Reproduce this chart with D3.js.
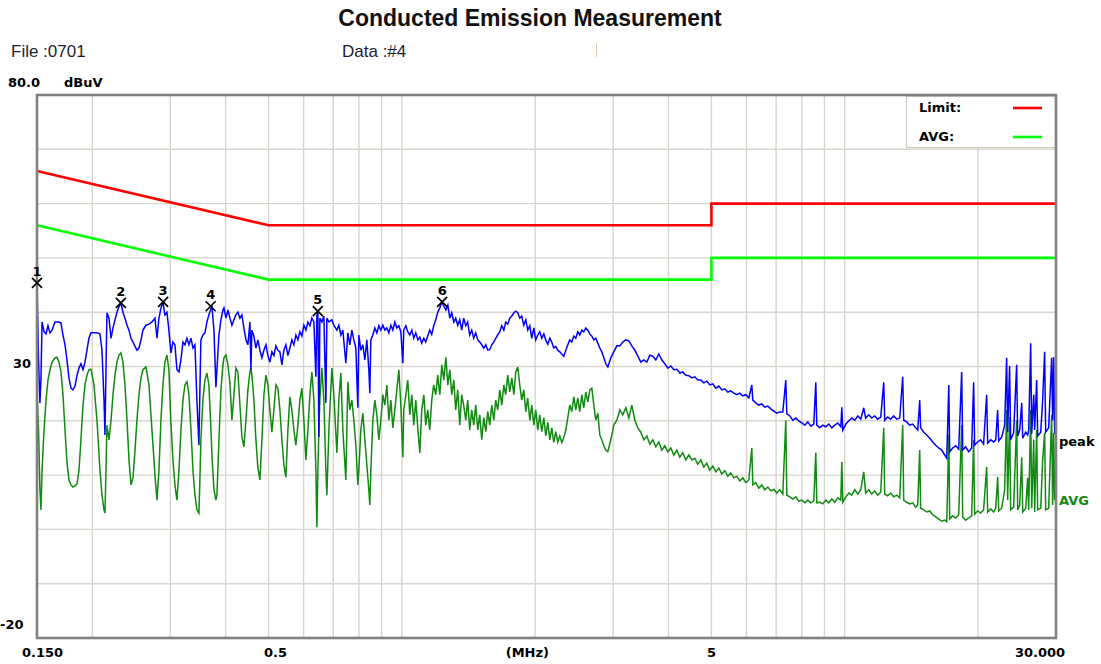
<!DOCTYPE html>
<html lang="en">
<head>
<meta charset="UTF-8">
<title>Conducted Emission Measurement</title>
<style>
  body { margin: 0; background: #fff; }
  svg { display: block; }
  text { font-family: "DejaVu Sans", sans-serif; }
</style>
</head>
<body>
<div id="chart"></div>
<script src="https://d3js.org/d3.v7.min.js"></script>
<script>
// sweep frequencies (MHz)
const freqMHz = [
  // 0.15 - 0.53
  0.1500, 0.1512, 0.1523, 0.1531, 0.1540, 0.1556, 0.1572, 0.1588, 0.1605, 0.1622,
  0.1647, 0.1664, 0.1682, 0.1699, 0.1717, 0.1735, 0.1753, 0.1771, 0.1790, 0.1808,
  0.1828, 0.1847, 0.1866, 0.1885, 0.1905, 0.1925, 0.1945, 0.1965, 0.1986, 0.2017,
  0.2049, 0.2081, 0.2103, 0.2125, 0.2136, 0.2147, 0.2158, 0.2181, 0.2204, 0.2227,
  0.2250, 0.2273, 0.2297, 0.2321, 0.2345, 0.2370, 0.2395, 0.2420, 0.2445, 0.2471,
  0.2497, 0.2522, 0.2549, 0.2576, 0.2602, 0.2643, 0.2685, 0.2727, 0.2770, 0.2799,
  0.2828, 0.2857, 0.2887, 0.2917, 0.2948, 0.2978, 0.3010, 0.3041, 0.3073, 0.3105,
  0.3138, 0.3170, 0.3204, 0.3237, 0.3271, 0.3305, 0.3340, 0.3375, 0.3410, 0.3445,
  0.3481, 0.3499, 0.3517, 0.3554, 0.3592, 0.3629, 0.3667, 0.3706, 0.3725, 0.3764,
  0.3803, 0.3823, 0.3863, 0.3903, 0.3944, 0.3965, 0.4006, 0.4048, 0.4090, 0.4133,
  0.4176, 0.4219, 0.4263, 0.4308, 0.4353, 0.4398, 0.4445, 0.4491, 0.4538, 0.4562,
  0.4585, 0.4633, 0.4682, 0.4731, 0.4780, 0.4830, 0.4881, 0.4932, 0.4983, 0.5035,
  0.5088, 0.5141, 0.5195, 0.5249,
  // 0.53 - 2.8
  0.5304, 0.5359, 0.5415, 0.5472, 0.5529, 0.5586, 0.5645, 0.5704, 0.5764, 0.5824,
  0.5885, 0.5946, 0.6008, 0.6071, 0.6135, 0.6199, 0.6263, 0.6329, 0.6395, 0.6428,
  0.6462, 0.6495, 0.6529, 0.6597, 0.6666, 0.6736, 0.6771, 0.6842, 0.6949, 0.7021,
  0.7132, 0.7206, 0.7282, 0.7358, 0.7473, 0.7551, 0.7630, 0.7710, 0.7791, 0.7872,
  0.7954, 0.7995, 0.8079, 0.8164, 0.8249, 0.8335, 0.8422, 0.8466, 0.8510, 0.8600,
  0.8690, 0.8780, 0.8872, 0.8965, 0.9058, 0.9153, 0.9249, 0.9345, 0.9443, 0.9542,
  0.9641, 0.9742, 0.9844, 0.9947, 1.005, 1.010, 1.021, 1.031, 1.042, 1.053,
  1.064, 1.075, 1.087, 1.098, 1.109, 1.121, 1.132, 1.144, 1.156, 1.168,
  1.180, 1.193, 1.205, 1.218, 1.231, 1.244, 1.257, 1.270, 1.283, 1.296,
  1.310, 1.323, 1.337, 1.351, 1.365, 1.379, 1.394, 1.408, 1.423, 1.438,
  1.453, 1.468, 1.484, 1.499, 1.515, 1.531, 1.547, 1.563, 1.579, 1.596,
  1.613, 1.629, 1.646, 1.664, 1.681, 1.699, 1.716, 1.734, 1.753, 1.771,
  1.790, 1.808, 1.827, 1.846, 1.865, 1.885, 1.905, 1.924, 1.945, 1.965,
  1.986, 2.006, 2.027, 2.048, 2.070, 2.092, 2.113, 2.136, 2.158, 2.180,
  2.203, 2.226, 2.249, 2.273, 2.297, 2.321, 2.345, 2.370, 2.394, 2.419,
  2.445, 2.470, 2.496, 2.522, 2.549, 2.575, 2.602, 2.630, 2.657, 2.685,
  2.713, 2.741, 2.770, 2.799,
  // 2.8 - 7.2
  2.828, 2.858, 2.888, 2.918, 2.964, 3.010, 3.058, 3.106, 3.154, 3.204,
  3.255, 3.306, 3.358, 3.411, 3.464, 3.518, 3.574, 3.630, 3.687, 3.745,
  3.804, 3.864, 3.925, 3.987, 4.049, 4.113, 4.177, 4.243, 4.309, 4.377,
  4.446, 4.516, 4.587, 4.659, 4.732, 4.807, 4.882, 4.959, 5.037, 5.116,
  5.197, 5.278, 5.361, 5.445, 5.531, 5.618, 5.706, 5.796, 5.887, 5.980,
  6.074, 6.169, 6.201, 6.298, 6.397, 6.498, 6.600, 6.704, 6.810, 6.917,
  7.025, 7.135,
  // 7.2 - 30
  7.248, 7.362, 7.400, 7.516, 7.635, 7.755, 7.876, 8.000, 8.126, 8.254,
  8.383, 8.515, 8.604, 8.649, 8.785, 8.923, 9.064, 9.206, 9.351, 9.498,
  9.647, 9.799, 9.850, 9.901, 10.06, 10.22, 10.37, 10.54, 10.71, 10.87,
  11.04, 11.15, 11.33, 11.51, 11.69, 11.87, 12.06, 12.25, 12.31, 12.50,
  12.70, 12.90, 13.11, 13.31, 13.52, 13.59, 13.80, 14.02, 14.24, 14.46,
  14.62, 14.77, 14.84, 15.08, 15.32, 15.56, 15.80, 16.05, 16.30, 16.56,
  16.82, 17.00, 17.18, 17.26, 17.53, 17.81, 18.09, 18.37, 18.47, 18.75,
  19.05, 19.35, 19.55, 19.65, 19.96, 20.27, 20.59, 20.92, 21.03, 21.36,
  21.69, 21.93, 22.15, 22.27, 22.62, 22.97, 23.21, 23.33, 23.57, 23.70,
  24.07, 24.45, 24.58, 24.84, 25.10, 25.23, 25.63, 25.89, 26.03, 26.30,
  26.44, 26.72, 26.85, 27.13, 27.27, 27.71, 27.99, 28.28, 28.43, 28.88,
  29.33, 29.48, 29.64, 29.79, 30.00
]

// peak detector trace (dBuV)
const peakDb = [
  45.4, 31.2, 23.3, 27.5, 38.2, 36.4, 36.0, 37.5, 36.2, 36.7,
  38.2, 38.2, 38.2, 38.0, 35.8, 34.0, 31.2, 27.9, 26.0, 25.7,
  26.4, 28.4, 29.7, 30.5, 29.4, 30.8, 33.0, 35.2, 36.2, 36.2,
  36.2, 36.0, 33.0, 23.8, 17.4, 29.4, 39.9, 38.9, 35.2, 37.1,
  38.6, 40.0, 41.0, 41.7, 40.0, 38.9, 37.6, 36.7, 35.2, 34.5,
  33.7, 33.0, 33.4, 34.9, 36.7, 37.6, 37.8, 38.2, 38.9, 35.2,
  38.9, 40.7, 41.9, 39.5, 40.0, 36.7, 32.5, 34.5, 34.0, 29.4,
  29.0, 31.2, 34.5, 34.0, 35.2, 34.0, 35.2, 33.4, 34.0, 23.8,
  15.5, 25.7, 34.9, 35.8, 36.2, 38.2, 39.5, 40.7, 41.1, 36.7,
  26.2, 29.4, 35.8, 38.6, 40.4, 40.8, 38.9, 40.4, 38.9, 37.6,
  38.6, 39.5, 40.0, 38.9, 39.5, 37.1, 34.9, 34.0, 38.2, 29.4,
  36.7, 35.6, 33.4, 34.9, 33.0, 31.6, 33.0, 34.0, 32.0, 30.8,
  32.7, 32.0, 33.8, 33.0,
  32.7, 30.3, 33.0, 34.0, 32.0, 33.4, 34.9, 34.0, 35.8, 34.9,
  36.4, 35.6, 37.6, 36.7, 38.2, 37.5, 38.9, 38.2, 28.1, 39.3,
  40.2, 17.0, 38.9, 38.2, 39.3, 23.3, 38.9, 38.2, 38.6, 37.6,
  36.7, 37.6, 35.8, 36.7, 30.6, 36.2, 34.0, 36.7, 34.9, 33.4,
  22.4, 35.8, 33.0, 34.0, 31.2, 34.9, 29.4, 25.1, 34.9, 35.8,
  37.1, 36.2, 37.5, 36.7, 37.6, 36.7, 37.1, 36.2, 37.6, 36.7,
  38.2, 37.1, 37.5, 36.4, 30.6, 36.7, 37.5, 36.4, 35.8, 36.7,
  35.2, 36.2, 34.9, 35.4, 34.3, 35.2, 34.5, 35.6, 36.7, 35.9,
  37.5, 38.6, 40.0, 40.8, 41.9, 41.1, 40.4, 41.3, 38.9, 39.9,
  38.2, 38.9, 37.6, 38.6, 36.7, 38.9, 37.5, 38.2, 35.8, 36.7,
  35.2, 36.2, 34.9, 34.5, 34.0, 33.4, 34.0, 33.0, 33.1, 34.0,
  34.5, 35.2, 35.8, 36.4, 37.5, 36.7, 38.2, 37.8, 38.9, 39.3,
  39.9, 40.2, 39.9, 38.9, 39.3, 37.6, 38.6, 36.7, 37.5, 35.2,
  37.1, 34.9, 35.8, 36.4, 35.2, 36.0, 34.9, 34.1, 35.2, 34.5,
  33.4, 33.7, 33.0, 32.7, 32.3, 31.9, 33.0, 34.0, 34.9, 34.5,
  35.6, 35.2, 36.4, 35.8, 36.7, 36.4, 37.1, 36.7, 36.0, 35.6,
  34.9, 35.2, 34.3, 33.4,
  32.7, 31.6, 30.5, 29.9, 31.6, 32.7, 33.8, 33.8, 34.5, 34.9,
  34.7, 33.8, 33.0, 31.9, 30.8, 31.2, 30.8, 32.1, 31.9, 31.2,
  32.3, 31.2, 30.5, 29.7, 30.1, 29.4, 29.5, 28.8, 29.0, 28.4,
  28.3, 27.9, 28.1, 27.5, 27.5, 27.0, 27.3, 26.6, 26.8, 26.0,
  26.4, 25.7, 25.9, 25.3, 25.5, 25.1, 24.8, 25.1, 24.6, 24.8,
  24.2, 26.6, 23.8, 23.3, 22.9, 23.1, 22.5, 22.7, 22.2, 21.8,
  21.4, 21.6,
  21.6, 27.5, 21.3, 20.9, 20.1, 20.5, 20.0, 19.6, 19.2, 19.8,
  19.0, 19.4, 27.1, 19.2, 18.7, 19.2, 18.9, 19.4, 18.7, 19.2,
  19.6, 18.9, 22.5, 18.3, 19.4, 20.0, 20.5, 20.1, 20.9, 20.3,
  22.4, 20.5, 21.1, 20.5, 20.9, 20.3, 20.7, 27.1, 20.1, 20.7,
  20.3, 20.9, 20.3, 20.5, 28.1, 20.1, 19.8, 19.2, 19.4, 18.7,
  18.3, 23.8, 18.7, 17.9, 17.4, 16.8, 16.1, 15.5, 15.0, 14.6,
  13.7, 13.1, 26.6, 14.3, 15.0, 15.4, 14.8, 29.0, 14.6, 15.2,
  14.3, 15.0, 27.1, 15.5, 16.1, 16.5, 15.7, 24.8, 15.9, 16.5,
  16.1, 16.5, 22.0, 16.3, 17.0, 19.2, 31.6, 17.9, 30.1, 16.5,
  17.8, 30.3, 17.2, 18.3, 23.3, 16.8, 17.9, 17.4, 18.3, 34.3,
  17.6, 24.8, 18.3, 27.5, 17.2, 17.9, 23.8, 32.7, 17.9, 18.7,
  31.6, 20.1, 31.7, 17.9, 17.4
]

// average detector trace (dBuV)
const avgDb = [
  25.1, 18.3, 7.3, 3.6, 10.9, 18.3, 23.8, 27.5, 29.4, 30.8,
  31.6, 31.7, 30.8, 29.0, 24.8, 18.3, 12.4, 9.1, 8.2, 7.8,
  8.0, 8.4, 10.9, 16.5, 22.9, 26.6, 28.4, 29.4, 29.5, 26.6,
  20.1, 10.9, 6.3, 3.6, 3.0, 10.9, 19.2, 16.5, 20.1, 24.8,
  28.4, 30.8, 32.1, 32.5, 30.8, 26.6, 20.1, 12.8, 8.2, 9.5,
  14.6, 20.1, 24.8, 27.9, 29.4, 29.9, 26.6, 18.3, 10.0, 5.4,
  10.9, 20.1, 26.6, 30.8, 32.1, 29.4, 19.6, 12.8, 8.2, 5.4,
  10.9, 18.3, 23.8, 26.6, 27.2, 24.8, 18.3, 10.9, 6.3, 3.6,
  3.0, 9.1, 16.5, 23.8, 27.5, 28.8, 26.6, 18.3, 13.7, 7.3,
  5.4, 6.3, 16.5, 25.7, 30.3, 31.6, 32.1, 30.3, 27.0, 20.1,
  24.8, 29.7, 29.0, 22.9, 17.0, 15.2, 20.1, 25.7, 29.0, 29.7,
  28.4, 23.8, 16.5, 11.3, 9.1, 16.5, 24.8, 28.4, 26.6, 22.0,
  17.9, 22.0, 26.6, 26.0,
  22.0, 16.5, 11.9, 9.6, 18.3, 24.4, 22.0, 18.3, 15.5, 19.2,
  23.8, 26.0, 20.1, 12.8, 18.3, 24.8, 29.0, 23.8, 10.9, 0.4,
  10.9, 18.3, 23.8, 29.7, 23.8, 10.9, 6.3, 18.3, 29.7, 24.8,
  14.1, 23.8, 28.8, 18.3, 9.1, 27.2, 22.0, 23.8, 20.1, 15.5,
  8.2, 10.9, 18.3, 21.4, 16.5, 11.9, 7.3, 4.5, 10.9, 20.1,
  23.8, 21.1, 16.5, 20.1, 24.8, 22.9, 26.6, 20.1, 23.8, 18.7,
  22.0, 25.7, 29.4, 22.9, 13.3, 22.0, 24.8, 27.5, 21.1, 24.8,
  19.2, 23.8, 18.3, 14.1, 22.0, 24.8, 19.2, 22.0, 18.3, 23.8,
  26.6, 24.8, 28.4, 24.8, 30.3, 27.5, 31.7, 26.6, 29.4, 24.8,
  27.5, 22.0, 25.7, 19.2, 24.8, 22.9, 20.1, 23.8, 18.3, 22.0,
  19.2, 22.9, 18.3, 21.1, 16.5, 20.6, 18.0, 21.7, 19.2, 22.9,
  20.1, 23.8, 22.0, 25.7, 22.9, 26.6, 24.8, 28.4, 25.3, 27.9,
  24.8, 29.0, 29.9, 26.6, 23.8, 25.7, 21.7, 24.2, 20.1, 22.9,
  19.2, 22.0, 18.3, 21.1, 18.0, 20.6, 17.2, 19.7, 16.5, 18.7,
  16.0, 18.0, 16.1, 17.2, 16.0, 16.9, 18.3, 20.6, 22.9, 21.7,
  24.4, 22.0, 24.2, 21.7, 24.8, 22.4, 25.3, 23.5, 25.7, 26.0,
  22.9, 20.1, 21.4, 17.4,
  16.5, 15.4, 14.6, 14.3, 16.5, 19.2, 20.1, 22.0, 21.1, 22.4,
  20.5, 22.9, 20.1, 18.7, 17.9, 16.5, 17.2, 15.7, 16.5, 15.2,
  16.1, 14.6, 15.4, 14.3, 15.0, 13.7, 14.6, 13.3, 14.1, 12.8,
  13.7, 12.8, 13.1, 12.0, 12.8, 11.5, 12.2, 10.9, 11.7, 10.6,
  11.3, 10.2, 10.8, 9.8, 10.4, 9.5, 9.8, 8.9, 9.5, 8.6,
  9.1, 15.0, 8.2, 8.6, 7.6, 8.2, 7.3, 7.8, 7.1, 7.4,
  6.7, 7.3,
  6.5, 20.1, 6.3, 6.0, 5.6, 6.0, 5.2, 5.4, 4.9, 5.4,
  4.9, 5.2, 14.1, 4.9, 5.0, 4.7, 5.4, 4.9, 5.6, 5.0,
  5.8, 5.4, 12.4, 5.0, 6.0, 6.7, 6.3, 7.3, 6.5, 7.3,
  10.6, 6.7, 7.3, 6.5, 7.1, 6.3, 6.9, 18.7, 6.5, 6.2,
  6.7, 6.0, 6.3, 5.8, 19.2, 5.4, 5.0, 4.7, 4.9, 4.1,
  4.5, 14.6, 3.9, 3.6, 3.2, 3.4, 2.7, 2.3, 1.9, 1.5,
  1.7, 1.4, 17.4, 1.9, 2.5, 2.1, 2.7, 19.2, 2.3, 1.7,
  2.1, 2.5, 16.5, 2.8, 3.4, 3.0, 3.6, 11.5, 3.2, 3.8,
  3.2, 3.9, 9.7, 3.4, 3.9, 7.3, 22.0, 5.4, 20.7, 3.6,
  4.1, 20.1, 3.6, 4.5, 13.3, 3.2, 3.9, 9.5, 3.6, 22.0,
  3.9, 16.5, 3.2, 18.3, 3.6, 3.9, 12.8, 17.8, 3.6, 3.9,
  21.1, 4.5, 17.8, 5.4, 6.7
]

// limit lines
const limitFreq = [0.15, 0.5, 5, 5, 30]
const qpLimit = [66, 56, 56, 60, 60]
const avLimit = [56, 46, 46, 50, 50]

// numbered peak markers
const markerIds = ['1', '2', '3', '4', '5', '6']
const markerFreq = [0.150, 0.232, 0.289, 0.370, 0.646, 1.233]
const markerDb = [45.4, 41.7, 41.9, 41.1, 40.2, 41.9]

// grid and tick labels
const gridFreq = [0.2, 0.3, 0.4, 0.5, 0.6, 0.7, 0.8, 0.9, 1, 2, 3, 4, 5, 6, 7, 8, 9, 10, 20]
const gridDb = [70, 60, 50, 40, 30, 20, 10, 0, -10]
const xTickValues = [0.15, 0.5, 5, 30]
const xTickLabels = ['0.150', '0.5', '5', '30.000']
const yTickValues = [80, 30, -20]
const yTickLabels = ['80.0', '30', '-20']

const width = 1101
const height = 664
const plot = { left: 37, top: 95, right: 1056, bottom: 638 }

const svg = d3.select('#chart').append('svg')
  .attr('width', width)
  .attr('height', height)

const x = d3.scaleLog().domain([0.15, 30]).range([plot.left, plot.right])
const y = d3.scaleLinear().domain([-20, 80]).range([plot.bottom, plot.top])

if (freqMHz.length !== peakDb.length || freqMHz.length !== avgDb.length) {
  console.error('length mismatch', freqMHz.length, peakDb.length, avgDb.length)
}
const n = Math.min(freqMHz.length, peakDb.length, avgDb.length)
const peakRows = d3.range(n).map(i => ({ f: freqMHz[i], v: peakDb[i] }))
const avgRows = d3.range(n).map(i => ({ f: freqMHz[i], v: avgDb[i] }))

// header texts
svg.append('text')
  .attr('x', 530).attr('y', 26)
  .attr('text-anchor', 'middle')
  .style('font-family', '"Liberation Sans", Arial, sans-serif')
  .style('font-weight', 'bold')
  .style('font-size', '23px')
  .attr('fill', '#111')
  .text('Conducted Emission Measurement')

svg.append('text')
  .attr('x', 11).attr('y', 57)
  .style('font-family', '"Liberation Sans", Arial, sans-serif')
  .style('font-size', '17px')
  .attr('fill', '#1d1d33')
  .text('File :0701')

svg.append('text')
  .attr('x', 342).attr('y', 57)
  .style('font-family', '"Liberation Sans", Arial, sans-serif')
  .style('font-size', '17px')
  .attr('fill', '#1d1d33')
  .text('Data :#4')

svg.append('line')
  .attr('x1', 596.5).attr('x2', 596.5).attr('y1', 43).attr('y2', 57)
  .attr('stroke', '#d8ccb2').attr('stroke-width', 1)

svg.append('text')
  .attr('x', 64).attr('y', 87)
  .style('font-weight', 'bold').style('font-size', '13px')
  .attr('fill', '#000')
  .text('dBuV')

// grid
const grid = svg.append('g')
grid.selectAll('line.v')
  .data(gridFreq)
  .join('line')
  .attr('x1', d => x(d)).attr('x2', d => x(d))
  .attr('y1', plot.top).attr('y2', plot.bottom)
  .attr('stroke', '#d9d5ce').attr('stroke-width', 1.4)
grid.selectAll('line.h')
  .data(gridDb)
  .join('line')
  .attr('x1', plot.left).attr('x2', plot.right)
  .attr('y1', d => y(d)).attr('y2', d => y(d))
  .attr('stroke', '#d9d5ce').attr('stroke-width', 1.4)

// clip for traces
svg.append('clipPath').attr('id', 'plotclip')
  .append('rect')
  .attr('x', plot.left).attr('y', plot.top)
  .attr('width', plot.right - plot.left).attr('height', plot.bottom - plot.top)

const line = d3.line().x(d => x(d.f)).y(d => y(d.v))

// limits
const limitRows = (vals) => limitFreq.map((f, i) => ({ f: f, v: vals[i] }))
svg.append('path')
  .attr('d', line(limitRows(qpLimit)))
  .attr('fill', 'none').attr('stroke', '#ff0000').attr('stroke-width', 2.6)
svg.append('path')
  .attr('d', line(limitRows(avLimit)))
  .attr('fill', 'none').attr('stroke', '#00ff00').attr('stroke-width', 2.6)

// traces
const traces = svg.append('g').attr('clip-path', 'url(#plotclip)')
traces.append('path')
  .attr('d', line(avgRows))
  .attr('fill', 'none').attr('stroke', '#108a10').attr('stroke-width', 1.5)
  .attr('stroke-linejoin', 'miter')
traces.append('path')
  .attr('d', line(peakRows))
  .attr('fill', 'none').attr('stroke', '#0000ff').attr('stroke-width', 1.5)
  .attr('stroke-linejoin', 'miter')

// legend
const lg = svg.append('g')
lg.append('rect')
  .attr('x', 906.5).attr('y', 96.5).attr('width', 149).attr('height', 51)
  .attr('fill', '#fff').attr('stroke', '#cfcac2').attr('stroke-width', 1.2)
lg.append('text').attr('x', 919).attr('y', 112)
  .style('font-weight', 'bold').style('font-size', '13px').text('Limit:')
lg.append('text').attr('x', 919).attr('y', 141)
  .style('font-weight', 'bold').style('font-size', '13px').text('AVG:')
lg.append('line').attr('x1', 1013).attr('x2', 1042).attr('y1', 108).attr('y2', 108)
  .attr('stroke', '#ff0000').attr('stroke-width', 2.6)
lg.append('line').attr('x1', 1013).attr('x2', 1042).attr('y1', 137).attr('y2', 137)
  .attr('stroke', '#00ff00').attr('stroke-width', 2.6)

// frame
svg.append('rect')
  .attr('x', plot.left).attr('y', plot.top)
  .attr('width', plot.right - plot.left).attr('height', plot.bottom - plot.top)
  .attr('fill', 'none').attr('stroke', '#808080').attr('stroke-width', 2.6)

// markers
const mk = svg.append('g').selectAll('g')
  .data(markerIds.map((id, i) => ({ id: id, f: markerFreq[i], v: markerDb[i] })))
  .join('g')
  .attr('transform', d => `translate(${x(d.f)},${y(d.v)})`)
mk.append('path')
  .attr('d', 'M-5,-5L5,5M-5,5L5,-5')
  .attr('stroke', '#000').attr('stroke-width', 1.7).attr('fill', 'none')
mk.append('text')
  .attr('y', -7)
  .attr('text-anchor', 'middle')
  .style('font-weight', 'bold').style('font-size', '13px')
  .text(d => d.id)

// tick labels
const xLabelShift = [5.5, 7, 0, -16]
svg.append('g').selectAll('text')
  .data(xTickValues)
  .join('text')
  .attr('x', (d, i) => x(d) + xLabelShift[i])
  .attr('y', 657)
  .attr('text-anchor', 'middle')
  .style('font-weight', 'bold').style('font-size', '13px')
  .text((d, i) => xTickLabels[i])

svg.append('text')
  .attr('x', x(1.92)).attr('y', 657)
  .attr('text-anchor', 'middle')
  .style('font-weight', 'bold').style('font-size', '13px')
  .text('(MHz)')

const yLabelX = [8, 13, 0]
const yLabelDy = [-8, 1, -9]
svg.append('g').selectAll('text')
  .data(yTickValues)
  .join('text')
  .attr('x', (d, i) => yLabelX[i])
  .attr('y', (d, i) => y(d) + yLabelDy[i])
  .style('font-weight', 'bold').style('font-size', '13px')
  .text((d, i) => yTickLabels[i])

// trace end labels
svg.append('text')
  .attr('x', plot.right + 3).attr('y', y(peakDb[n - 1]) + 11)
  .style('font-weight', 'bold').style('font-size', '13px')
  .attr('fill', '#000')
  .text('peak')
svg.append('text')
  .attr('x', plot.right + 3).attr('y', y(avgDb[n - 1]) + 12)
  .style('font-weight', 'bold').style('font-size', '13px')
  .attr('fill', '#108a10')
  .text('AVG')
</script>
</body>
</html>
